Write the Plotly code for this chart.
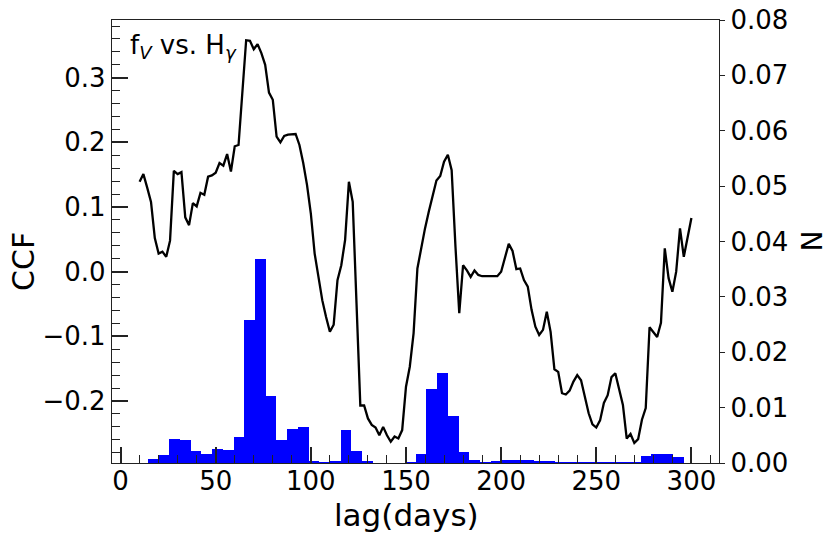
import numpy as np
import plotly.graph_objects as go

# ---- CCF curve (lag in days, CCF value) ----
lag_days = list(range(10, 301, 2))
ccf = [
    0.139, 0.151, 0.130, 0.108, 0.052, 0.028, 0.031, 0.023, 0.048, 0.156,
    0.151, 0.154, 0.084, 0.072, 0.106, 0.101, 0.122, 0.119, 0.147, 0.149,
    0.153, 0.168, 0.164, 0.182, 0.155, 0.194, 0.196, 0.277, 0.358, 0.357,
    0.344, 0.352, 0.338, 0.320, 0.277, 0.266, 0.209, 0.200, 0.210, 0.212,
    0.213, 0.213, 0.196, 0.168, 0.134, 0.090, 0.028, -0.010, -0.044, -0.070,
    -0.093, -0.082, -0.013, 0.010, 0.049, 0.139, 0.108, -0.049, -0.207, -0.207,
    -0.227, -0.237, -0.241, -0.253, -0.240, -0.253, -0.263, -0.255, -0.258, -0.245,
    -0.178, -0.147, -0.095, 0.005, 0.039, 0.067, 0.093, 0.116, 0.141, 0.148,
    0.170, 0.181, 0.157, 0.039, -0.064, 0.010, 0.002, -0.008, 0.002, -0.005,
    -0.007, -0.007, -0.007, -0.007, -0.007, 0.000, 0.022, 0.043, 0.032, 0.004,
    0.005, -0.013, -0.023, -0.059, -0.085, -0.098, -0.090, -0.062, -0.093, -0.151,
    -0.155, -0.188, -0.190, -0.184, -0.170, -0.160, -0.168, -0.196, -0.219, -0.236,
    -0.241, -0.230, -0.203, -0.191, -0.163, -0.157, -0.180, -0.206, -0.258, -0.251,
    -0.265, -0.259, -0.229, -0.211, -0.086, -0.093, -0.101, -0.079, 0.036, -0.010,
    -0.031, 0.000, 0.067, 0.023, 0.052, 0.083,
]

# ---- Histogram of lags (50 bins, density) ----
hist_lag_min = 14.3
hist_lag_max = 295.9
hist_density = [
    0.0007, 0.0014, 0.0043, 0.0042, 0.0021, 0.0016, 0.0026, 0.0023, 0.0047, 0.0259,
    0.0368, 0.0121, 0.0042, 0.0061, 0.0065, 0.0002, 0.0001, 0.0004, 0.0060, 0.0021,
    0.0002, 0.0000, 0.0000, 0.0000, 0.0001, 0.0016, 0.0134, 0.0162, 0.0085, 0.0020,
    0.0006, 0.0001, 0.0003, 0.0005, 0.0005, 0.0006, 0.0003, 0.0003, 0.0001, 0.0001,
    0.0001, 0.0001, 0.0001, 0.0001, 0.0001, 0.0001, 0.0013, 0.0017, 0.0016, 0.0011,
]

# ---- Axis ticks ----
x_ticks = [0, 50, 100, 150, 200, 250, 300]
ccf_ticks = [-0.2, -0.1, 0.0, 0.1, 0.2, 0.3]
n_ticks = [0.00, 0.01, 0.02, 0.03, 0.04, 0.05, 0.06, 0.07, 0.08]

edges = np.linspace(hist_lag_min, hist_lag_max, len(hist_density) + 1)
centers = 0.5 * (edges[:-1] + edges[1:])
widths = np.diff(edges)

FONT = "DejaVu Sans"
AX = "#222222"

fig = go.Figure()
fig.add_trace(go.Scatter(
    x=lag_days, y=ccf, mode="lines",
    line=dict(color="black", width=2.3),
    yaxis="y", showlegend=False, hoverinfo="skip",
))
fig.add_trace(go.Bar(
    x=centers, y=hist_density, width=widths,
    marker=dict(color="#0000ff", line=dict(width=0)),
    yaxis="y2", showlegend=False, hoverinfo="skip",
))

fig.update_layout(
    width=831, height=541,
    margin=dict(l=112, r=112, t=20, b=78),
    paper_bgcolor="white", plot_bgcolor="white",
    font=dict(family=FONT, size=26, color="black"),
    bargap=0,
    xaxis=dict(
        range=[-4.5, 314.5], tickvals=x_ticks, automargin=False,
        ticks="inside", ticklen=16, tickwidth=1.6, tickcolor=AX,
        ticklabelstandoff=-5,
        minor=dict(dtick=10, tick0=0, ticks="inside", ticklen=8, tickwidth=1.4, tickcolor=AX),
        showline=True, linecolor=AX, linewidth=1.4, mirror=True,
        showgrid=False, zeroline=False,
        tickfont=dict(family=FONT, size=26, color="black"),
    ),
    yaxis=dict(
        range=[-0.2959, 0.3893], tickvals=ccf_ticks, tickformat=".1f", automargin=False,
        ticks="inside", ticklen=16, tickwidth=1.6, tickcolor=AX,
        minor=dict(dtick=0.02, tick0=0, ticks="inside", ticklen=8, tickwidth=1.4, tickcolor=AX),
        showline=True, linecolor=AX, linewidth=1.4,
        showgrid=False, zeroline=False,
        tickfont=dict(family=FONT, size=26, color="black"),
    ),
    yaxis2=dict(
        range=[0, 0.08], tickvals=n_ticks, tickformat=".2f", automargin=False,
        overlaying="y", side="right",
        ticks="outside", ticklen=5, tickwidth=1.4, tickcolor=AX,
        showline=True, linecolor=AX, linewidth=1.4,
        showgrid=False, zeroline=False,
        tickfont=dict(family=FONT, size=26, color="black"),
    ),
)

# axis titles and label as annotations (pixel-placed relative to the plot area)
PW, PH = 607.0, 443.0
fig.add_annotation(
    text="lag(days)", xref="paper", yref="paper",
    x=(406 - 112) / PW, y=-(515 - 463) / PH, xanchor="center", yanchor="middle",
    showarrow=False, font=dict(family=FONT, size=31, color="black"),
)
fig.add_annotation(
    text="CCF", xref="paper", yref="paper",
    x=-(112 - 23) / PW, y=(463 - 262) / PH, xanchor="center", yanchor="middle",
    textangle=-90, showarrow=False, font=dict(family=FONT, size=30, color="black"),
)
fig.add_annotation(
    text="N", xref="paper", yref="paper",
    x=1 + (812 - 719) / PW, y=0.5, xanchor="center", yanchor="middle",
    textangle=-90, showarrow=False, font=dict(family=FONT, size=28, color="black"),
)
fig.add_annotation(
    text="f<sub><i>V</i></sub> vs. H<sub><i>γ</i></sub>", xref="paper", yref="paper",
    x=(128 - 112) / PW, y=(463 - 46) / PH, xanchor="left", yanchor="middle",
    showarrow=False, font=dict(family=FONT, size=26, color="black"),
)

fig.write_html(
    "out.html",
    config={"displayModeBar": False},
    post_script="document.body.style.margin='0';document.body.style.overflow='hidden';",
)
